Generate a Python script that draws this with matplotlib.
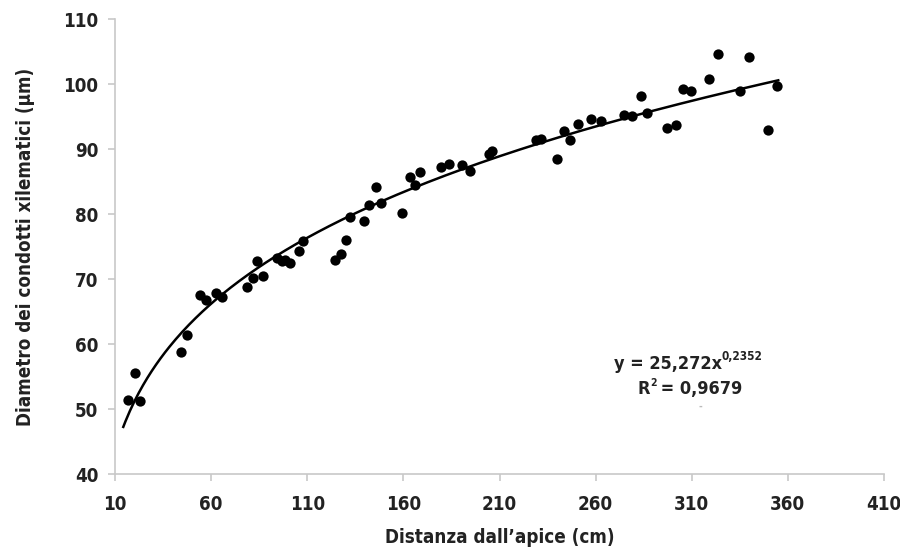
import numpy as np
import matplotlib
matplotlib.use("Agg")
import matplotlib.pyplot as plt

plt.rcParams['font.family'] = ['DejaVu Sans']
plt.rcParams['font.stretch'] = 'condensed'
plt.rcParams['font.weight'] = 'bold'

distance = [16.9, 23.0, 20.4, 44.4, 47.3, 54.3, 57.4, 62.6, 65.6, 78.6, 83.8, 82.0, 86.9,
            94.2, 96.8, 101.0, 98.5, 105.5, 108.0, 124.6, 127.5, 130.1, 132.4, 139.7, 141.9,
            145.6, 148.4, 159.3, 163.3, 165.9, 168.9, 179.8, 183.6, 190.5, 194.5, 204.4,
            206.2, 228.8, 231.4, 240.0, 243.5, 246.6, 250.7, 257.7, 262.6, 274.7, 279.1,
            283.4, 286.9, 297.3, 301.7, 305.7, 309.5, 319.0, 323.7, 335.2, 339.8, 349.9, 354.6]
diameter = [51.4, 51.3, 55.6, 58.8, 61.4, 67.5, 66.8, 67.8, 67.2, 68.7, 72.7, 70.1, 70.5,
            73.3, 72.7, 72.5, 73.0, 74.3, 75.9, 72.9, 73.8, 76.0, 79.5, 79.0, 81.4,
            84.1, 81.7, 80.1, 85.7, 84.5, 86.4, 87.2, 87.7, 87.5, 86.6, 89.2,
            89.7, 91.4, 91.5, 88.5, 92.8, 91.4, 93.8, 94.6, 94.3, 95.3, 95.1,
            98.2, 95.5, 93.3, 93.7, 99.3, 99.0, 100.7, 104.6, 99.0, 104.1, 92.9, 99.7]

fit_a = 25.272
fit_b = 0.2352
fit_range = (14.3, 355.0)

x_ticks = [10, 60, 110, 160, 210, 260, 310, 360, 410]
y_ticks = [40, 50, 60, 70, 80, 90, 100, 110]

fig = plt.figure(figsize=(9, 5.54), dpi=100)
ax = fig.add_axes([0.1278, 0.1444, 0.8544, 0.8213])

xf = np.linspace(fit_range[0], fit_range[1], 300)
ax.plot(xf, fit_a * xf ** fit_b, color='black', lw=1.8, zorder=2)
ax.scatter(distance, diameter, s=55, color='black', zorder=3, linewidths=0)

ax.set_xlim(10, 410)
ax.set_ylim(40, 110)
ax.set_xticks(x_ticks)
ax.set_yticks(y_ticks)
ax.set_xticklabels([str(t) for t in x_ticks], fontsize=13.5, fontweight='bold')
ax.set_yticklabels([str(t) for t in y_ticks], fontsize=13.5, fontweight='bold')

for s in ['top', 'right']:
    ax.spines[s].set_visible(False)
for s in ['left', 'bottom']:
    ax.spines[s].set_color('#c8c8c8')
    ax.spines[s].set_linewidth(1.2)
ax.tick_params(axis='both', colors='#c8c8c8', length=5, width=1.2, labelcolor='#222222')
ax.tick_params(axis='x', pad=10)
ax.tick_params(axis='y', pad=7)

ax.set_xlabel("Distanza dall\u2019apice (cm)", fontsize=13.5, fontweight='bold', color='#222222', labelpad=10)
ax.set_ylabel("Diametro dei condotti xilematici (\u03bcm)", fontsize=13.5, fontweight='bold', color='#222222', labelpad=20)

# trend-line equation (main text + superscripts), in figure pixel fractions
W, H = 900.0, 554.0
fig.text(722 / W, 1 - 364 / H, "y = 25,272x", ha='right', va='center', fontsize=13,
         fontweight='bold', color='#222222')
fig.text(722 / W, 1 - 356 / H, "0,2352", ha='left', va='center', fontsize=8.5,
         fontweight='bold', color='#222222')
fig.text(650 / W, 1 - 389 / H, "R", ha='right', va='center', fontsize=13,
         fontweight='bold', color='#222222')
fig.text(650 / W, 1 - 383 / H, "2", ha='left', va='center', fontsize=7.5,
         fontweight='bold', color='#222222')
fig.text(655 / W, 1 - 389 / H, " = 0,9679", ha='left', va='center', fontsize=13,
         fontweight='bold', color='#222222')
fig.text(700 / W, 1 - 407 / H, "-", ha='center', va='center', fontsize=7, color='#bbbbbb')

fig.savefig('out.png', dpi=100)
